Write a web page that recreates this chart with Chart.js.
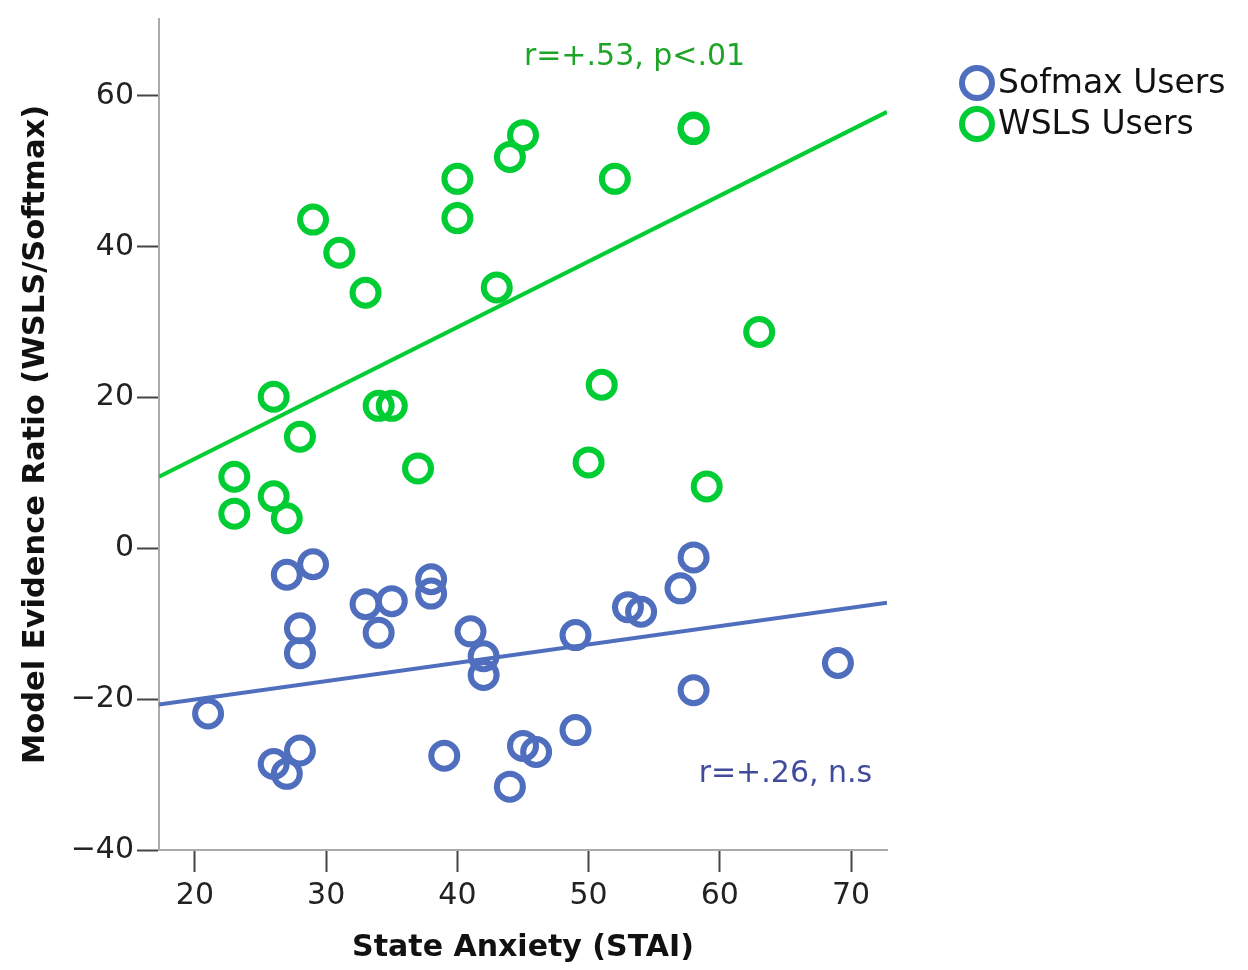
<!DOCTYPE html>
<html>
<head>
<meta charset="utf-8">
<script src="https://cdn.jsdelivr.net/npm/chart.js@4.4.1/dist/chart.umd.min.js"></script>
<style>
  html, body { margin: 0; padding: 0; background: #fff; }
  #wrap { width: 1248px; height: 970px; }
</style>
</head>
<body>
<div id="wrap"><canvas id="chart" width="1248" height="970"></canvas></div>
<script>
const X_MIN = 17.26;
const X_MAX = 72.74;
const Y_MIN = -40;
const Y_MAX = 70.2;
const xTicks = [20, 30, 40, 50, 60, 70];
const yTicks = [-40, -20, 0, 20, 40, 60];

const seriesNames = ['Sofmax Users', 'WSLS Users'];

// WSLS users (green)
const wslsX = [23, 23, 26, 26, 27, 28, 29, 31, 33, 34, 35, 37, 40, 40, 43, 44, 45, 50, 51, 52, 58, 58, 59, 63];
const wslsY = [9.5, 4.6, 20.1, 6.9, 4.0, 14.8, 43.6, 39.2, 33.9, 18.9, 18.9, 10.6, 49.0, 43.8, 34.6, 51.9, 54.8, 11.4, 21.7, 49.0, 55.6, 55.8, 8.2, 28.7];

// Softmax users (blue)
const softX = [21, 26, 27, 27, 28, 28, 28, 29, 33, 34, 35, 38, 38, 39, 41, 42, 42, 44, 45, 46, 49, 49, 53, 54, 57, 58, 58, 69];
const softY = [-21.9, -28.6, -29.9, -3.5, -10.6, -13.9, -26.8, -2.1, -7.4, -11.2, -7.0, -4.1, -6.0, -27.5, -11.0, -14.3, -16.8, -31.6, -26.2, -27.0, -11.5, -24.1, -7.8, -8.4, -5.3, -1.2, -18.8, -15.2];

// fit lines: [slope, intercept]
const wslsFit = [0.872, -5.55];
const softFit = [0.243, -24.9];

const statLabels = ['r=+.53, p<.01', 'r=+.26, n.s'];
const statAt = [[53.5, 65.2], [65, -29.9]];

const GREEN = 'rgb(0, 204, 51)';
const BLUE = 'rgb(80, 110, 190)';
const GREEN_TXT = 'rgb(30, 165, 40)';
const BLUE_TXT = 'rgb(65, 75, 155)';
const FONT = '"DejaVu Sans", Verdana, sans-serif';

function toPoints(xs, ys) {
  return xs.map((x, i) => ({ x: x, y: ys[i] }));
}

function fitLine(fit) {
  return [X_MIN, X_MAX].map(x => ({ x: x, y: fit[0] * x + fit[1] }));
}

const extras = {
  id: 'extras',
  afterDatasetsDraw(chart) {
    const ctx = chart.ctx;
    const xs = chart.scales.x, ys = chart.scales.y;
    ctx.save();
    // stat labels
    ctx.font = '30px ' + FONT;
    ctx.textAlign = 'center';
    ctx.textBaseline = 'middle';
    [GREEN_TXT, BLUE_TXT].forEach((c, i) => {
      ctx.fillStyle = c;
      ctx.fillText(statLabels[i], xs.getPixelForValue(statAt[i][0]), ys.getPixelForValue(statAt[i][1]));
    });
    // legend
    ctx.font = '33px ' + FONT;
    ctx.textAlign = 'left';
    [BLUE, GREEN].forEach((c, i) => {
      const cy = 83 + i * 41;
      ctx.beginPath();
      ctx.arc(977, cy, 15, 0, Math.PI * 2);
      ctx.strokeStyle = c;
      ctx.lineWidth = 6;
      ctx.stroke();
      ctx.fillStyle = '#111';
      ctx.fillText(seriesNames[i], 998, cy + 1);
    });
    ctx.restore();
  }
};

new Chart(document.getElementById('chart'), {
  type: 'scatter',
  data: {
    datasets: [
      {
        label: seriesNames[0],
        data: toPoints(softX, softY),
        borderColor: BLUE,
        backgroundColor: 'rgba(0,0,0,0)',
        pointRadius: 13,
        pointBorderWidth: 6,
        pointHoverRadius: 13
      },
      {
        label: seriesNames[1],
        data: toPoints(wslsX, wslsY),
        borderColor: GREEN,
        backgroundColor: 'rgba(0,0,0,0)',
        pointRadius: 13,
        pointBorderWidth: 6,
        pointHoverRadius: 13
      },
      {
        type: 'line',
        data: fitLine(softFit),
        borderColor: BLUE,
        borderWidth: 4,
        pointRadius: 0,
        fill: false
      },
      {
        type: 'line',
        data: fitLine(wslsFit),
        borderColor: GREEN,
        borderWidth: 4,
        pointRadius: 0,
        fill: false
      }
    ]
  },
  options: {
    responsive: false,
    animation: false,
    layout: { padding: { left: 14, top: 6, right: 361, bottom: 0 } },
    plugins: { legend: { display: false }, tooltip: { enabled: false } },
    scales: {
      x: {
        type: 'linear',
        min: X_MIN,
        max: X_MAX,
        afterBuildTicks: s => { s.ticks = xTicks.map(v => ({ value: v })); },
        afterFit: s => { s.height = 120; s.paddingLeft = 0; s.paddingRight = 0; },
        ticks: { font: { family: FONT, size: 30 }, color: '#222', padding: 6 },
        grid: { drawOnChartArea: false, drawTicks: true, tickLength: 22, tickColor: '#444', tickWidth: 2 },
        border: { color: '#aaa', width: 2 },
        title: {
          display: true,
          text: 'State Anxiety (STAI)',
          font: { family: FONT, size: 30, weight: 'bold' },
          color: '#111',
          padding: { top: 10 }
        }
      },
      y: {
        type: 'linear',
        min: Y_MIN,
        max: Y_MAX,
        afterBuildTicks: s => { s.ticks = yTicks.map(v => ({ value: v })); },
        afterFit: s => { s.width = 145; s.paddingTop = 0; s.paddingBottom = 0; },
        ticks: {
          font: { family: FONT, size: 30 },
          color: '#222',
          padding: 3,
          callback: v => String(v).replace('-', '\u2212')
        },
        grid: { drawOnChartArea: false, drawTicks: true, tickLength: 22, tickColor: '#444', tickWidth: 2 },
        border: { color: '#aaa', width: 2 },
        title: {
          display: true,
          text: 'Model Evidence Ratio (WSLS/Softmax)',
          font: { family: FONT, size: 30.5, weight: 'bold' },
          color: '#111',
          padding: { bottom: 0 }
        }
      }
    }
  },
  plugins: [extras]
});
</script>
</body>
</html>
